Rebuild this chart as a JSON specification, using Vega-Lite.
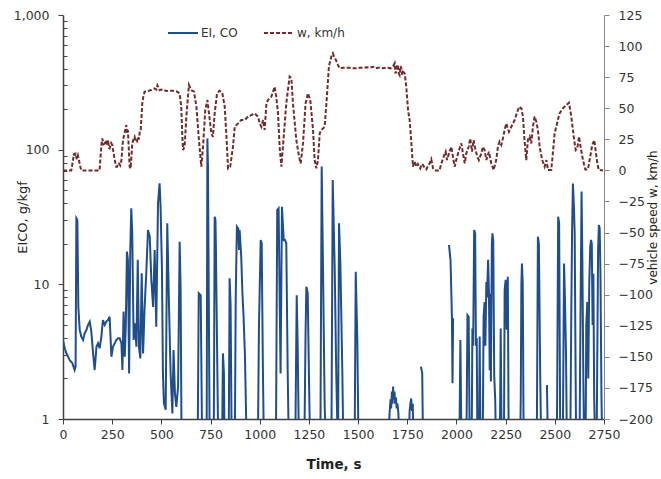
{
  "$schema": "https://vega.github.io/schema/vega-lite/v6.json",
  "autosize": {"type": "none"},
  "width": 541,
  "height": 404,
  "padding": {"left": 63, "top": 15, "right": 57, "bottom": 60},
  "background": "white",
  "config": {
    "view": {"stroke": null},
    "font": "DejaVu Sans",
    "axis": {"labelFont": "DejaVu Sans", "labelFontSize": 12.5, "labelColor": "#333333", "titleFont": "DejaVu Sans", "titleColor": "#222222", "grid": false}
  },
  "datasets": {
    "ei": [
      {"t":0,"v":3.86},{"t":9,"v":3.35},{"t":17,"v":3.07},{"t":26,"v":2.9},{"t":34,"v":2.74},{"t":48,"v":2.59},{"t":59,"v":2.31},{"t":64,"v":2.45},{"t":68,"v":30.9},{"t":73,"v":30},{"t":78,"v":6.8},{"t":85,"v":4.58},{"t":93,"v":4.09},{"t":102,"v":3.86},{"t":110,"v":4.33},{"t":119,"v":4.58},{"t":127,"v":4.99},{"t":136,"v":5.28},{"t":144,"v":4.45},{"t":153,"v":3.07},{"t":161,"v":2.31},{"t":170,"v":3.44},{"t":178,"v":3.65},{"t":186,"v":3.35},{"t":195,"v":4.09},{"t":203,"v":5.43},{"t":212,"v":4.99},{"t":220,"v":5.28},{"t":229,"v":5.43},{"t":237,"v":5.75},{"t":246,"v":2.9},{"t":254,"v":3.44},{"t":263,"v":3.65},{"t":271,"v":3.86},{"t":280,"v":3.97},{"t":288,"v":3.97},{"t":297,"v":3.65},{"t":302,"v":2.31},{"t":308,"v":6.27},{"t":314,"v":2.9},{"t":319,"v":4.85},{"t":325,"v":17.5},{"t":330,"v":15.2},{"t":336,"v":2.18},{"t":342,"v":18},{"t":347,"v":36.7},{"t":352,"v":23.9},{"t":359,"v":3.86},{"t":366,"v":5.13},{"t":373,"v":3.44},{"t":380,"v":15.2},{"t":386,"v":3.44},{"t":393,"v":2.82},{"t":400,"v":12.1},{"t":407,"v":3.07},{"t":415,"v":6.8},{"t":424,"v":12.8},{"t":432,"v":25.3},{"t":441,"v":22.6},{"t":449,"v":10.8},{"t":458,"v":6.8},{"t":466,"v":18},{"t":474,"v":4.85},{"t":483,"v":40},{"t":491,"v":56.2},{"t":496,"v":37.7},{"t":503,"v":12.8},{"t":508,"v":2.18},{"t":513,"v":1.31},{"t":522,"v":1.17},{"t":530,"v":28.4},{"t":539,"v":6.8},{"t":547,"v":2.18},{"t":556,"v":1.1},{"t":562,"v":3.25},{"t":569,"v":1.55},{"t":576,"v":1.23},{"t":585,"v":1.74},{"t":593,"v":20.7},{"t":598,"v":9.08},{"t":603,"v":0.5},
      {"t":684,"v":0.5},{"t":690,"v":8.6},{"t":700,"v":8.3},{"t":708,"v":0.5},{"t":730,"v":0.5},{"t":734,"v":121},{"t":737,"v":75},{"t":746,"v":0.5},{"t":766,"v":0.5},{"t":771,"v":31.8},{"t":775,"v":30},{"t":777,"v":20},{"t":790,"v":0.5},{"t":808,"v":0.5},{"t":813,"v":3.07},{"t":818,"v":2.18},{"t":822,"v":0.5},{"t":842,"v":0.5},{"t":847,"v":11.1},{"t":852,"v":7},{"t":858,"v":0.5},{"t":873,"v":0.5},{"t":878,"v":8.1},{"t":884,"v":26.8},{"t":891,"v":25.9},{"t":895,"v":18},{"t":898,"v":25.3},{"t":906,"v":16},{"t":912,"v":8.6},{"t":918,"v":5.7},{"t":925,"v":2.9},{"t":935,"v":0.5},
      {"t":990,"v":0.5},{"t":996,"v":4.85},{"t":1005,"v":21.3},{"t":1010,"v":20.2},{"t":1016,"v":2.45},{"t":1022,"v":0.5},{"t":1082,"v":0.5},{"t":1089,"v":35.7},{"t":1096,"v":36.7},{"t":1101,"v":8.6},{"t":1106,"v":2.18},{"t":1113,"v":37.7},{"t":1122,"v":21.3},{"t":1128,"v":21.4},{"t":1135,"v":20.2},{"t":1142,"v":2.3},{"t":1149,"v":0.5},{"t":1180,"v":0.5},{"t":1188,"v":8.3},{"t":1193,"v":3.44},{"t":1200,"v":0.5},{"t":1226,"v":0.5},{"t":1233,"v":4.33},{"t":1237,"v":9.6},{"t":1244,"v":8.6},{"t":1250,"v":2.18},{"t":1257,"v":0.5},{"t":1308,"v":0.5},{"t":1315,"v":75},{"t":1322,"v":12.1},{"t":1330,"v":1.3},{"t":1338,"v":0.5},{"t":1364,"v":0.5},{"t":1371,"v":59.5},{"t":1381,"v":13.5},{"t":1389,"v":2.18},{"t":1398,"v":0.5},{"t":1403,"v":28.4},{"t":1410,"v":14.3},{"t":1420,"v":2.18},{"t":1426,"v":0.5},{"t":1482,"v":0.5},{"t":1488,"v":12.4},{"t":1496,"v":3.9},{"t":1503,"v":0.5},
      {"t":1650,"v":0.5},{"t":1660,"v":1.1},{"t":1665,"v":1.4},{"t":1668,"v":1.2},{"t":1672,"v":1.6},{"t":1675,"v":1.3},{"t":1678,"v":1.74},{"t":1681,"v":1.4},{"t":1685,"v":1.6},{"t":1688,"v":1.3},{"t":1692,"v":1.45},{"t":1696,"v":1.2},{"t":1700,"v":1.3},{"t":1705,"v":1.1},{"t":1710,"v":0.5},{"t":1755,"v":0.5},{"t":1762,"v":1.15},{"t":1766,"v":1.3},{"t":1770,"v":1.42},{"t":1774,"v":1.15},{"t":1778,"v":1.3},{"t":1782,"v":0.5},{"t":1800,"v":null},{"t":1819,"v":2.45},{"t":1826,"v":2.2},{"t":1831,"v":0.5},{"t":1900,"v":null},{"t":1962,"v":19.6},{"t":1970,"v":15},{"t":1977,"v":5.6},{"t":1980,"v":1.84},{"t":1983,"v":5.6},{"t":1995,"v":null},
      {"t":2014,"v":0.5},{"t":2020,"v":3.86},{"t":2026,"v":0.5},{"t":2050,"v":0.5},{"t":2056,"v":5.9},{"t":2062,"v":5.75},{"t":2068,"v":0.5},{"t":2077,"v":0.5},{"t":2081,"v":4.7},{"t":2085,"v":3.5},{"t":2090,"v":25.3},{"t":2095,"v":24},{"t":2099,"v":3.5},{"t":2103,"v":4},{"t":2107,"v":0.5},{"t":2114,"v":0.5},{"t":2118,"v":4.1},{"t":2123,"v":0.5},{"t":2133,"v":0.5},{"t":2138,"v":5.75},{"t":2143,"v":7.4},{"t":2147,"v":3.5},{"t":2152,"v":10.4},{"t":2155,"v":8},{"t":2161,"v":15.2},{"t":2165,"v":9},{"t":2169,"v":2.3},{"t":2172,"v":8.5},{"t":2175,"v":1.9},{"t":2180,"v":20},{"t":2183,"v":23.9},{"t":2187,"v":21},{"t":2192,"v":2.1},{"t":2197,"v":1.4},{"t":2202,"v":0.5},{"t":2220,"v":0.5},{"t":2225,"v":4.7},{"t":2230,"v":0.5},{"t":2241,"v":0.5},{"t":2245,"v":9.1},{"t":2250,"v":10.8},{"t":2255,"v":4.6},{"t":2261,"v":11.4},{"t":2266,"v":0.5},{"t":2323,"v":0.5},{"t":2327,"v":1.5},{"t":2330,"v":10},{"t":2333,"v":14.3},{"t":2337,"v":10},{"t":2342,"v":0.5},{"t":2408,"v":0.5},{"t":2414,"v":22.6},{"t":2419,"v":20},{"t":2426,"v":1.95},{"t":2432,"v":0.5},{"t":2445,"v":null},{"t":2460,"v":1.79},{"t":2466,"v":0.5},
      {"t":2510,"v":0.5},{"t":2517,"v":31.8},{"t":2522,"v":28.3},{"t":2528,"v":0.5},{"t":2540,"v":0.5},{"t":2547,"v":14.3},{"t":2552,"v":7.2},{"t":2557,"v":3},{"t":2562,"v":0.5},{"t":2578,"v":0.5},{"t":2584,"v":6.8},{"t":2588,"v":26.8},{"t":2592,"v":56},{"t":2597,"v":38},{"t":2601,"v":24},{"t":2605,"v":3},{"t":2609,"v":0.5},{"t":2625,"v":0.5},{"t":2631,"v":7.2},{"t":2636,"v":48.8},{"t":2640,"v":15},{"t":2645,"v":2},{"t":2650,"v":0.5},{"t":2656,"v":0.5},{"t":2660,"v":5},{"t":2665,"v":7.4},{"t":2670,"v":2},{"t":2675,"v":10},{"t":2680,"v":19},{"t":2684,"v":21.4},{"t":2688,"v":20},{"t":2692,"v":5},{"t":2696,"v":12},{"t":2700,"v":1.5},{"t":2706,"v":0.5},{"t":2712,"v":0.5},{"t":2716,"v":3},{"t":2720,"v":18},{"t":2724,"v":27.6},{"t":2728,"v":26},{"t":2732,"v":12},{"t":2737,"v":1.5},{"t":2742,"v":0.5},{"t":2750,"v":0.5}
    ],
    "speed": [
      {"t":0,"w":0},{"t":42,"w":0},{"t":51,"w":8},{"t":55,"w":13.7},{"t":59,"w":11},{"t":64,"w":14.2},{"t":70,"w":9},{"t":76,"w":12},{"t":81,"w":8.3},{"t":88,"w":3},{"t":93,"w":0},{"t":186,"w":0},{"t":195,"w":20},{"t":200,"w":25.7},{"t":206,"w":21},{"t":212,"w":21.7},{"t":218,"w":24},{"t":224,"w":20},{"t":229,"w":24.4},{"t":234,"w":18},{"t":237,"w":17.7},{"t":245,"w":22},{"t":251,"w":20.4},{"t":257,"w":14},{"t":263,"w":8.3},{"t":270,"w":3},{"t":275,"w":3},{"t":280,"w":6},{"t":285,"w":5.6},{"t":291,"w":4},{"t":297,"w":8.3},{"t":305,"w":24.4},{"t":313,"w":29.8},{"t":322,"w":36.5},{"t":326,"w":30},{"t":330,"w":32.5},{"t":335,"w":15},{"t":339,"w":3},{"t":344,"w":1.6},{"t":352,"w":21.7},{"t":358,"w":25},{"t":364,"w":27},{"t":370,"w":23},{"t":376,"w":23},{"t":381,"w":27},{"t":386,"w":25},{"t":391,"w":32},{"t":395,"w":32.5},{"t":403,"w":53.9},{"t":409,"w":60},{"t":415,"w":63.3},{"t":432,"w":63.8},{"t":449,"w":64.6},{"t":466,"w":66},{"t":475,"w":65},{"t":480,"w":68.4},{"t":491,"w":64.6},{"t":508,"w":65.2},{"t":525,"w":63.8},{"t":542,"w":64.1},{"t":559,"w":64.1},{"t":576,"w":63.6},{"t":593,"w":62},{"t":601,"w":51.2},{"t":606,"w":30},{"t":610,"w":16.4},{"t":618,"w":19},{"t":627,"w":43.2},{"t":640,"w":68.7},{"t":652,"w":64.6},{"t":666,"w":63.3},{"t":678,"w":51.2},{"t":691,"w":24.4},{"t":703,"w":3},{"t":712,"w":19},{"t":723,"w":48.5},{"t":734,"w":56.6},{"t":742,"w":45.9},{"t":754,"w":29.8},{"t":762,"w":27},{"t":771,"w":45.9},{"t":783,"w":62},{"t":796,"w":64.1},{"t":810,"w":62},{"t":822,"w":51.2},{"t":830,"w":29.8},{"t":839,"w":1.6},{"t":850,"w":3},{"t":864,"w":19},{"t":873,"w":35.1},{"t":890,"w":37.8},{"t":906,"w":40.5},{"t":923,"w":40.5},{"t":940,"w":43.2},{"t":957,"w":44.5},{"t":974,"w":45.9},{"t":991,"w":43.2},{"t":1000,"w":37.8},{"t":1008,"w":35.1},{"t":1017,"w":40.5},{"t":1025,"w":32.5},{"t":1034,"w":53.9},{"t":1042,"w":56.6},{"t":1059,"w":59.3},{"t":1076,"w":67.3},{"t":1084,"w":59.3},{"t":1093,"w":45.9},{"t":1101,"w":19},{"t":1110,"w":3},{"t":1118,"w":19},{"t":1135,"w":53.9},{"t":1152,"w":75.4},{"t":1161,"w":74},{"t":1169,"w":53.9},{"t":1186,"w":24.4},{"t":1200,"w":11},{"t":1208,"w":5.6},{"t":1220,"w":21.7},{"t":1233,"w":53.9},{"t":1245,"w":62},{"t":1257,"w":56.6},{"t":1271,"w":32.5},{"t":1279,"w":8.3},{"t":1288,"w":1.6},{"t":1296,"w":8.3},{"t":1305,"w":29.8},{"t":1313,"w":32.5},{"t":1322,"w":33.8},{"t":1330,"w":35.1},{"t":1339,"w":53.9},{"t":1352,"w":84},{"t":1364,"w":91.5},{"t":1372,"w":94.1},{"t":1381,"w":90.1},{"t":1386,"w":89.3},{"t":1398,"w":84.7},{"t":1406,"w":82.1},{"t":1423,"w":82.6},{"t":1440,"w":82.6},{"t":1457,"w":82.6},{"t":1474,"w":82.1},{"t":1491,"w":82.1},{"t":1508,"w":82.6},{"t":1525,"w":82.6},{"t":1542,"w":83},{"t":1559,"w":82.6},{"t":1576,"w":83.4},{"t":1590,"w":82.1},{"t":1601,"w":82.6},{"t":1615,"w":82.6},{"t":1627,"w":82.1},{"t":1640,"w":82.6},{"t":1652,"w":82.6},{"t":1665,"w":82.1},{"t":1677,"w":83.4},{"t":1686,"w":86.1},{"t":1690,"w":78},{"t":1694,"w":79.4},{"t":1699,"w":85},{"t":1703,"w":83.4},{"t":1707,"w":78},{"t":1711,"w":76.7},{"t":1716,"w":84},{"t":1720,"w":82.1},{"t":1724,"w":77},{"t":1728,"w":79.4},{"t":1737,"w":78},{"t":1745,"w":67.3},{"t":1754,"w":48.5},{"t":1762,"w":40.5},{"t":1771,"w":21.7},{"t":1779,"w":3},{"t":1787,"w":7},{"t":1796,"w":3},{"t":1804,"w":5.1},{"t":1810,"w":3},{"t":1816,"w":1.6},{"t":1823,"w":5},{"t":1830,"w":4.3},{"t":1838,"w":2},{"t":1847,"w":0.8},{"t":1856,"w":4},{"t":1864,"w":5.6},{"t":1872,"w":8.9},{"t":1881,"w":1.6},{"t":1889,"w":0},{"t":1914,"w":0},{"t":1923,"w":5.6},{"t":1935,"w":11},{"t":1945,"w":15},{"t":1952,"w":8.3},{"t":1962,"w":13.7},{"t":1974,"w":19},{"t":1982,"w":11},{"t":1991,"w":3},{"t":1999,"w":8.3},{"t":2013,"w":16.4},{"t":2025,"w":21.7},{"t":2033,"w":13.7},{"t":2042,"w":5.6},{"t":2050,"w":13.7},{"t":2062,"w":19},{"t":2070,"w":25.7},{"t":2079,"w":15},{"t":2087,"w":24.4},{"t":2097,"w":16.4},{"t":2106,"w":11},{"t":2114,"w":8.3},{"t":2126,"w":13.7},{"t":2135,"w":19},{"t":2143,"w":16.4},{"t":2152,"w":8.3},{"t":2165,"w":15},{"t":2177,"w":5.6},{"t":2189,"w":0.3},{"t":2202,"w":8.3},{"t":2211,"w":19},{"t":2219,"w":23.1},{"t":2228,"w":20.4},{"t":2236,"w":25.7},{"t":2245,"w":32.5},{"t":2253,"w":37.8},{"t":2267,"w":31.1},{"t":2279,"w":35.1},{"t":2296,"w":40.5},{"t":2307,"w":45.9},{"t":2318,"w":51.2},{"t":2330,"w":49.9},{"t":2338,"w":43.2},{"t":2346,"w":24.4},{"t":2355,"w":8.3},{"t":2363,"w":24.4},{"t":2372,"w":27.1},{"t":2380,"w":21.7},{"t":2389,"w":35.1},{"t":2397,"w":43.2},{"t":2406,"w":39.2},{"t":2414,"w":32.5},{"t":2423,"w":19},{"t":2436,"w":8.3},{"t":2448,"w":3},{"t":2457,"w":8.3},{"t":2465,"w":0.3},{"t":2482,"w":0.3},{"t":2490,"w":13.7},{"t":2499,"w":29.8},{"t":2507,"w":35.1},{"t":2524,"w":45.9},{"t":2541,"w":49.9},{"t":2558,"w":52.5},{"t":2572,"w":54.4},{"t":2584,"w":43.2},{"t":2596,"w":27.1},{"t":2606,"w":16.4},{"t":2614,"w":17.7},{"t":2623,"w":27.1},{"t":2631,"w":19},{"t":2643,"w":8.3},{"t":2655,"w":0.8},{"t":2668,"w":0.8},{"t":2680,"w":11},{"t":2690,"w":20.4},{"t":2701,"w":24.4},{"t":2707,"w":16.4},{"t":2716,"w":5.6},{"t":2724,"w":0.3},{"t":2745,"w":0}
    ]
  },
  "layer": [
    {
      "data": {"name": "ei"},
      "mark": {"type": "line", "strokeWidth": 2, "clip": true, "invalid": "break-paths-filter-domains"},
      "encoding": {
        "x": {"field": "t", "type": "quantitative",
          "scale": {"domain": [0, 2750], "nice": false, "zero": false},
          "axis": {"values": [0,250,500,750,1000,1250,1500,1750,2000,2250,2500,2750], "format": "d", "title": "Time, s", "titleFontWeight": "bold", "titleFontSize": 13.5, "titlePadding": 17, "tickSize": 5, "labelPadding": 4, "domainColor": "#404040", "domainWidth": 1.5, "tickColor": "#404040", "labelFlush": false}},
        "y": {"field": "v", "type": "quantitative",
          "scale": {"type": "log", "domain": [1, 1000], "nice": false},
          "axis": {"orient": "left", "values": [1,2,3,4,5,6,7,8,9,10,20,30,40,50,60,70,80,90,100,200,300,400,500,600,700,800,900,1000],
            "labelExpr": "indexof([1,10,100,1000], datum.value) >= 0 ? format(datum.value, ',') : ''",
            "tickSize": {"condition": {"test": "indexof([1,10,100,1000], datum.value) >= 0", "value": 5}, "value": -4},
            "labelPadding": 9, "domainColor": "#404040", "domainWidth": 1.5, "tickColor": "#404040",
            "title": "EICO, g/kgf", "titleFontSize": 13, "titleFontWeight": "normal",
            "titleX": -41, "titleY": 202, "titleAngle": 270, "titleAlign": "center", "titleBaseline": "middle"}},
        "color": {"datum": "EI, CO", "type": "nominal", "scale": {"domain": ["EI, CO", "w, km/h"], "range": ["#1f4e8b", "#722b2b"]},
          "legend": {"orient": "none", "legendX": 104, "legendY": 2, "direction": "horizontal", "title": null, "symbolType": "stroke", "symbolSize": 900, "symbolStrokeWidth": 2, "labelFontSize": 12, "labelFont": "DejaVu Sans", "labelColor": "#333333", "columnPadding": 22, "labelOffset": 2}},
        "strokeDash": {"datum": "EI, CO", "type": "nominal", "scale": {"domain": ["EI, CO", "w, km/h"], "range": [[1, 0], [4, 2]]}}
      }
    },
    {
      "data": {"name": "speed"},
      "mark": {"type": "line", "strokeWidth": 2, "clip": true},
      "encoding": {
        "x": {"field": "t", "type": "quantitative"},
        "y": {"field": "w", "type": "quantitative",
          "scale": {"domain": [-200, 125], "nice": false, "zero": false},
          "axis": {"orient": "right", "values": [-200,-175,-150,-125,-100,-75,-50,-25,0,25,50,75,100,125], "tickSize": 5, "labelPadding": 9,
            "domainColor": "#868686", "tickColor": "#868686", "title": "vehicle speed w, km/h", "titleFontSize": 12, "titleFontWeight": "normal",
            "titleX": 48, "titleY": 202, "titleAngle": 270, "titleAlign": "center", "titleBaseline": "middle"}},
        "color": {"datum": "w, km/h", "type": "nominal"},
        "strokeDash": {"datum": "w, km/h", "type": "nominal"}
      }
    }
  ],
  "resolve": {"scale": {"y": "independent"}, "axis": {"y": "independent"}}
}
